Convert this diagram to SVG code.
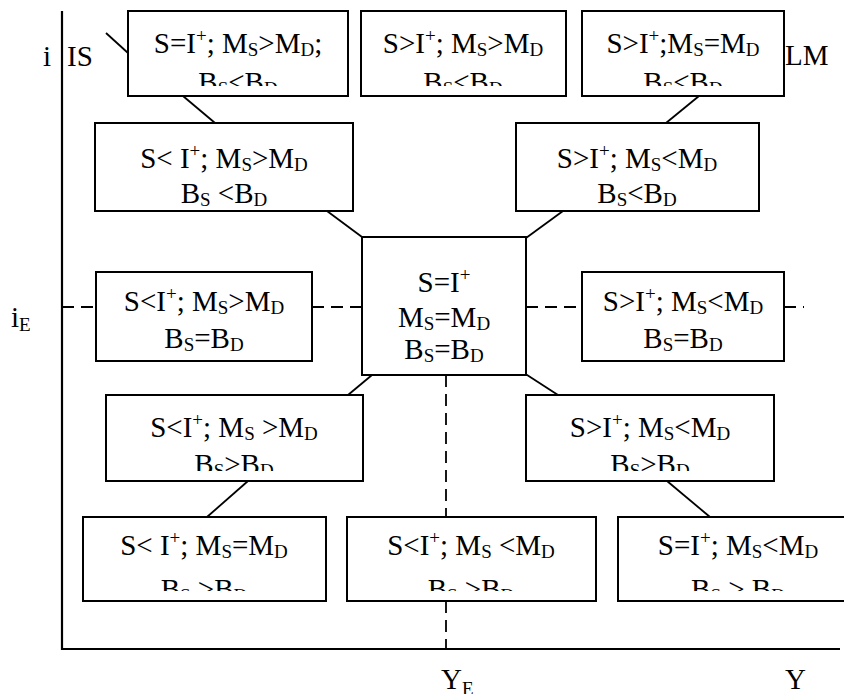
<svg xmlns="http://www.w3.org/2000/svg" width="844" height="694" viewBox="0 0 844 694">
  <style>
    text { font-family: "Liberation Serif", "Times New Roman", serif; font-size: 29px; fill: #000; }
    .c { text-anchor: middle; }
    .s { font-size: 19px; }
    .box { fill: #fff; stroke: #000; stroke-width: 2; }
    .axis { fill: none; stroke: #000; stroke-width: 2.2; }
    .link { fill: none; stroke: #000; stroke-width: 1.8; }
    .dash { fill: none; stroke: #000; stroke-width: 1.8; stroke-dasharray: 12 7; }
  </style>
  <defs>
    <clipPath id="clip-r1"><rect x="120" y="11" width="680" height="75"/></clipPath>
    <clipPath id="clip-r4"><rect x="100" y="395" width="680" height="76"/></clipPath>
    <clipPath id="clip-r5"><rect x="80" y="517" width="764" height="74"/></clipPath>
  </defs>

  <!-- axes -->
  <g id="axes">
    <path class="axis" d="M62 11 V649 H840"/>
  </g>

  <!-- guide lines and connectors -->
  <g id="connectors">
    <path class="dash" d="M62 307 H96 M312 307 H362 M526 307 H582 M784 307 H804"/>
    <path class="dash" d="M446 375 V517 M446 601 V649"/>
    <path class="link" d="M106 33 L128 53"/>
    <path class="link" d="M183 96 L215 123"/>
    <path class="link" d="M699 96 L666 123"/>
    <path class="link" d="M327 211 L362 237"/>
    <path class="link" d="M563 211 L526 238"/>
    <path class="link" d="M372 375 L348 395"/>
    <path class="link" d="M524 373 L558 395"/>
    <path class="link" d="M248 481 L207 517"/>
    <path class="link" d="M667 481 L710 517"/>
  </g>

  <!-- axis labels -->
  <g id="labels">
    <text x="43" y="66">i</text>
    <text x="67" y="66">IS</text>
    <text x="785" y="65">LM</text>
    <text x="11" y="327">i<tspan class="s" dy="4">E</tspan></text>
    <text x="441" y="689">Y<tspan class="s" dy="6">E</tspan></text>
    <text x="785" y="689">Y</text>
  </g>

  <!-- top row -->
  <g id="n-top-left">
    <rect class="box" x="128" y="11" width="220" height="85"/>
    <text class="c" x="238" y="53">S=I<tspan class="s" dy="-11">+</tspan><tspan dy="11">; M</tspan><tspan class="s" dy="3">S</tspan><tspan dy="-3">&gt;M</tspan><tspan class="s" dy="3">D</tspan><tspan dy="-3">;</tspan></text>
    <g clip-path="url(#clip-r1)"><text class="c" x="238" y="92">B<tspan class="s" dy="3">S</tspan><tspan dy="-3">&lt;B</tspan><tspan class="s" dy="3">D</tspan></text></g>
  </g>
  <g id="n-top-mid">
    <rect class="box" x="361" y="11" width="205" height="85"/>
    <text class="c" x="463" y="53">S&gt;I<tspan class="s" dy="-11">+</tspan><tspan dy="11">; M</tspan><tspan class="s" dy="3">S</tspan><tspan dy="-3">&gt;M</tspan><tspan class="s" dy="3">D</tspan></text>
    <g clip-path="url(#clip-r1)"><text class="c" x="463" y="92">B<tspan class="s" dy="3">S</tspan><tspan dy="-3">&lt;B</tspan><tspan class="s" dy="3">D</tspan></text></g>
  </g>
  <g id="n-top-right">
    <rect class="box" x="582" y="11" width="202" height="85"/>
    <text class="c" x="683" y="53">S&gt;I<tspan class="s" dy="-11">+</tspan><tspan dy="11">;M</tspan><tspan class="s" dy="3">S</tspan><tspan dy="-3">=M</tspan><tspan class="s" dy="3">D</tspan></text>
    <g clip-path="url(#clip-r1)"><text class="c" x="683" y="92">B<tspan class="s" dy="3">S</tspan><tspan dy="-3">&lt;B</tspan><tspan class="s" dy="3">D</tspan></text></g>
  </g>

  <!-- second row -->
  <g id="n-upper-left">
    <rect class="box" x="95" y="123" width="258" height="88"/>
    <text class="c" x="224" y="168">S&lt; I<tspan class="s" dy="-11">+</tspan><tspan dy="11">; M</tspan><tspan class="s" dy="3">S</tspan><tspan dy="-3">&gt;M</tspan><tspan class="s" dy="3">D</tspan></text>
    <text class="c" x="224" y="203">B<tspan class="s" dy="3">S</tspan><tspan dy="-3"> &lt;B</tspan><tspan class="s" dy="3">D</tspan></text>
  </g>
  <g id="n-upper-right">
    <rect class="box" x="516" y="123" width="243" height="88"/>
    <text class="c" x="637" y="168">S&gt;I<tspan class="s" dy="-11">+</tspan><tspan dy="11">; M</tspan><tspan class="s" dy="3">S</tspan><tspan dy="-3">&lt;M</tspan><tspan class="s" dy="3">D</tspan></text>
    <text class="c" x="637" y="203">B<tspan class="s" dy="3">S</tspan><tspan dy="-3">&lt;B</tspan><tspan class="s" dy="3">D</tspan></text>
  </g>

  <!-- middle row -->
  <g id="n-mid-left">
    <rect class="box" x="96" y="272" width="216" height="89"/>
    <text class="c" x="204" y="311">S&lt;I<tspan class="s" dy="-11">+</tspan><tspan dy="11">; M</tspan><tspan class="s" dy="3">S</tspan><tspan dy="-3">&gt;M</tspan><tspan class="s" dy="3">D</tspan></text>
    <text class="c" x="204" y="348">B<tspan class="s" dy="3">S</tspan><tspan dy="-3">=B</tspan><tspan class="s" dy="3">D</tspan></text>
  </g>
  <g id="n-center">
    <rect class="box" x="362" y="237" width="164" height="138"/>
    <text class="c" x="444" y="292">S=I<tspan class="s" dy="-11">+</tspan></text>
    <text class="c" x="444" y="327">M<tspan class="s" dy="3">S</tspan><tspan dy="-3">=M</tspan><tspan class="s" dy="3">D</tspan></text>
    <text class="c" x="444" y="359">B<tspan class="s" dy="3">S</tspan><tspan dy="-3">=B</tspan><tspan class="s" dy="3">D</tspan></text>
  </g>
  <g id="n-mid-right">
    <rect class="box" x="582" y="272" width="202" height="89"/>
    <text class="c" x="683" y="311">S&gt;I<tspan class="s" dy="-11">+</tspan><tspan dy="11">; M</tspan><tspan class="s" dy="3">S</tspan><tspan dy="-3">&lt;M</tspan><tspan class="s" dy="3">D</tspan></text>
    <text class="c" x="683" y="348">B<tspan class="s" dy="3">S</tspan><tspan dy="-3">=B</tspan><tspan class="s" dy="3">D</tspan></text>
  </g>

  <!-- fourth row -->
  <g id="n-lower-left">
    <rect class="box" x="106" y="395" width="257" height="86"/>
    <text class="c" x="234" y="437">S&lt;I<tspan class="s" dy="-11">+</tspan><tspan dy="11">; M</tspan><tspan class="s" dy="3">S</tspan><tspan dy="-3"> &gt;M</tspan><tspan class="s" dy="3">D</tspan></text>
    <g clip-path="url(#clip-r4)"><text class="c" x="234" y="474">B<tspan class="s" dy="3">S</tspan><tspan dy="-3">&gt;B</tspan><tspan class="s" dy="3">D</tspan></text></g>
  </g>
  <g id="n-lower-right">
    <rect class="box" x="526" y="395" width="248" height="86"/>
    <text class="c" x="650" y="437">S&gt;I<tspan class="s" dy="-11">+</tspan><tspan dy="11">; M</tspan><tspan class="s" dy="3">S</tspan><tspan dy="-3">&lt;M</tspan><tspan class="s" dy="3">D</tspan></text>
    <g clip-path="url(#clip-r4)"><text class="c" x="650" y="474">B<tspan class="s" dy="3">S</tspan><tspan dy="-3">&gt;B</tspan><tspan class="s" dy="3">D</tspan></text></g>
  </g>

  <!-- bottom row -->
  <g id="n-bottom-left">
    <rect class="box" x="83" y="517" width="243" height="84"/>
    <text class="c" x="204" y="555">S&lt; I<tspan class="s" dy="-11">+</tspan><tspan dy="11">; M</tspan><tspan class="s" dy="3">S</tspan><tspan dy="-3">=M</tspan><tspan class="s" dy="3">D</tspan></text>
    <g clip-path="url(#clip-r5)"><text class="c" x="204" y="599">B<tspan class="s" dy="3">S</tspan><tspan dy="-3"> &gt;B</tspan><tspan class="s" dy="3">D</tspan></text></g>
  </g>
  <g id="n-bottom-mid">
    <rect class="box" x="347" y="517" width="249" height="84"/>
    <text class="c" x="471" y="555">S&lt;I<tspan class="s" dy="-11">+</tspan><tspan dy="11">; M</tspan><tspan class="s" dy="3">S</tspan><tspan dy="-3"> &lt;M</tspan><tspan class="s" dy="3">D</tspan></text>
    <g clip-path="url(#clip-r5)"><text class="c" x="471" y="599">B<tspan class="s" dy="3">S</tspan><tspan dy="-3"> &gt;B</tspan><tspan class="s" dy="3">D</tspan></text></g>
  </g>
  <g id="n-bottom-right">
    <rect class="box" x="618" y="517" width="240" height="84"/>
    <text class="c" x="738" y="555">S=I<tspan class="s" dy="-11">+</tspan><tspan dy="11">; M</tspan><tspan class="s" dy="3">S</tspan><tspan dy="-3">&lt;M</tspan><tspan class="s" dy="3">D</tspan></text>
    <g clip-path="url(#clip-r5)"><text class="c" x="738" y="599">B<tspan class="s" dy="3">S</tspan><tspan dy="-3"> &gt; B</tspan><tspan class="s" dy="3">D</tspan></text></g>
  </g>
</svg>
